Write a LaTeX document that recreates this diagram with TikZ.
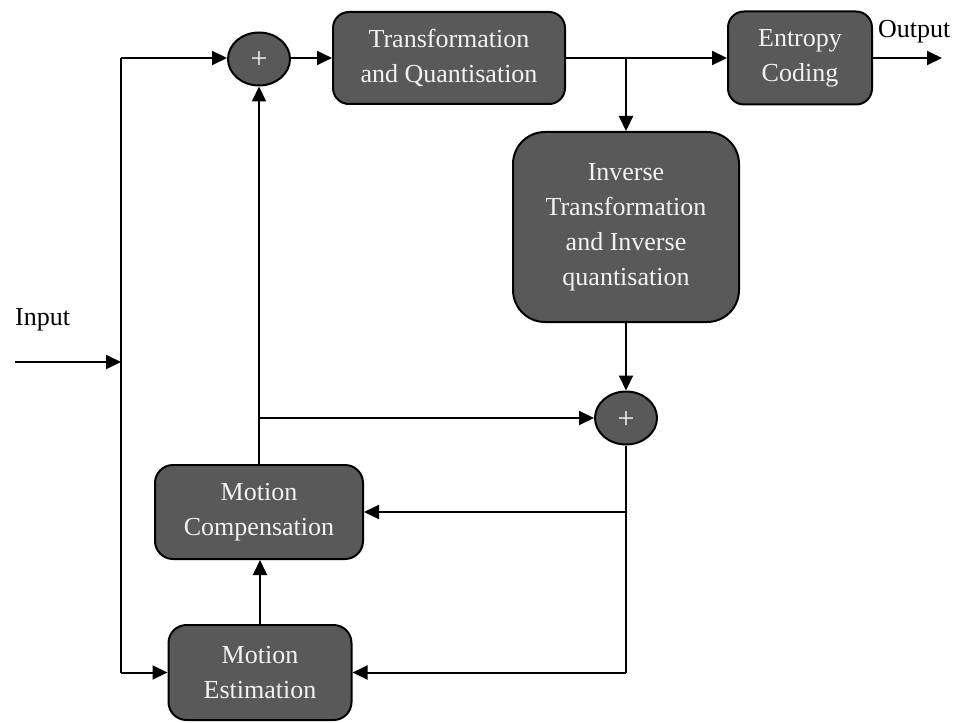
\documentclass[tikz,border=0pt]{standalone}
\usepackage{fontspec}
\setmainfont{Liberation Serif}
\usetikzlibrary{arrows.meta,shapes.geometric}
\definecolor{blockfill}{RGB}{89,89,89}
\definecolor{blocktext}{RGB}{242,242,242}
\begin{document}
\begin{tikzpicture}[x=1pt,y=-1pt,
  txt/.style={font=\fontsize{26}{35}\selectfont},
  block/.style={txt,draw=black,line width=2pt,fill=blockfill,text=blocktext,
    align=center,inner sep=0pt,rounded corners=#1},
  block/.default=16pt,
  summer/.style={ellipse,draw=black,line width=2pt,fill=blockfill,
    text=blocktext,inner sep=0pt,minimum width=62pt,minimum height=53pt,
    font=\fontsize{30}{35}\selectfont},
  wire/.style={line width=2pt},
  arr/.style={wire,-{Triangle[length=15pt,width=14pt]}}]
\useasboundingbox (0,0) rectangle (957,722);

% blocks
\node[summer] (sum1) at (259,59) {\raisebox{-10pt}[0pt][0pt]{+}};
\node[block, minimum width=232pt, minimum height=92pt] (tq) at (449,58)
  {Transformation\\and Quantisation};
\node[block, minimum width=144pt, minimum height=93pt] (ec) at (800,58)
  {Entropy\\Coding};
\node[block=32pt, minimum width=226pt, minimum height=190pt] (inv) at (626,227)
  {Inverse\\Transformation\\and Inverse\\quantisation};
\node[summer] (sum2) at (626,418) {\raisebox{-10pt}[0pt][0pt]{+}};
\node[block=18pt, minimum width=208pt, minimum height=94pt] (mc) at (259,512)
  {Motion\\Compensation};
\node[block=18pt, minimum width=183pt, minimum height=95pt] (me) at (260,672.5)
  {Motion\\Estimation};

% labels
\node[txt, anchor=base west, inner sep=0pt] (inlabel) at (15,325) {Input};
\node[txt, anchor=base west, inner sep=0pt] (outlabel) at (878,38) {Output};

% free ends and junctions
\coordinate (inL) at (15,362);
\coordinate (inJ) at (121,362);
\coordinate (topL) at (121,58);
\coordinate (botL) at (121,672.5);
\coordinate (outR) at (942,58);

% input path
\draw[arr] (inL) -- (inJ);
\draw[wire] (topL) -- (botL);
\draw[arr] (topL) -- (topL -| sum1.west);
\draw[arr] (botL) -- (me.west);

% forward path
\draw[arr] (sum1.east |- tq.west) -- (tq.west);
\draw[arr] (tq.east) -- (ec.west);
\draw[arr] (ec.east) -- (outR);
\draw[arr] (tq.east -| inv.north) -- (inv.north);
\draw[arr] (inv.south) -- (sum2.north);

% prediction loop
\draw[arr] (mc.north) -- (mc.north |- sum1.south);
\draw[arr] (mc.north |- sum2.west) -- (sum2.west);
\draw[wire] (sum2.south) -- (sum2.south |- me.east);
\draw[arr] (sum2.south |- me.east) -- (me.east);
\draw[arr] (sum2.south |- mc.east) -- (mc.east);
\draw[arr] (me.north) -- (me.north |- mc.south);
\end{tikzpicture}
\end{document}
